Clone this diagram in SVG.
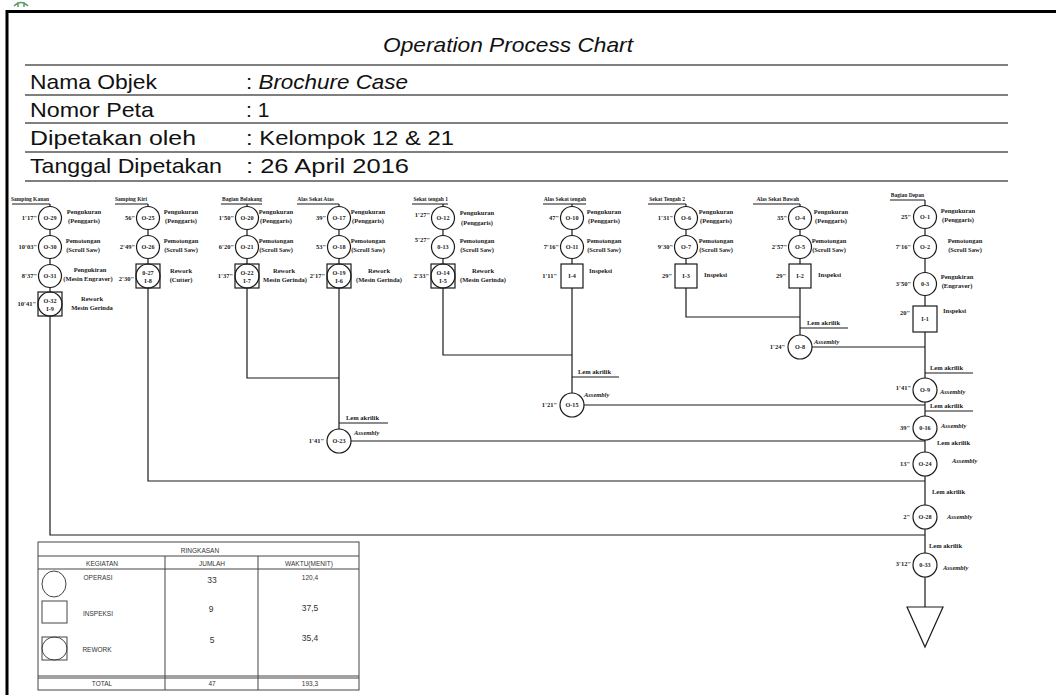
<svg xmlns="http://www.w3.org/2000/svg" width="1056" height="695" viewBox="0 0 1056 695">
<style>
.c{fill:#fff;stroke:#1a1a1a;stroke-width:1.2}
.cn{fill:none;stroke:#1a1a1a;stroke-width:1.2}
.ln{fill:none;stroke:#1a1a1a;stroke-width:1.2}
.hl{fill:none;stroke:#555;stroke-width:1.5}
.tl{fill:none;stroke:#444;stroke-width:1}
.t{font-family:"Liberation Serif",serif;font-weight:bold;fill:#1a1a1a}
.id{font-size:6.2px;text-anchor:middle}
.tm{font-size:6.5px;text-anchor:end}
.lb{font-size:6.5px;text-anchor:middle}
.ls{font-size:6.5px;text-anchor:start}
.hd{font-size:5.5px;text-anchor:end}
.as{font-size:6.5px;font-style:italic}
.lem{font-size:6.5px}
.h{font-family:"Liberation Sans",Arial,sans-serif;font-size:21px;fill:#111}
.tb{font-family:"Liberation Sans",Arial,sans-serif;font-size:6.5px;fill:#333;text-anchor:middle}
.tn{font-family:"Liberation Sans",Arial,sans-serif;font-size:8.5px;fill:#333;text-anchor:middle}
</style>
<rect width="1056" height="695" fill="#fff"/>
<path d="M14 6 q7 -7 14 0 M18 2 v5 M24 2 v5" stroke="#5a9e6a" stroke-width="1.5" fill="none"/>
<path d="M7 695 V11.5 H1056" fill="none" stroke="#000" stroke-width="3"/>
<g id="header">
<text class="h" x="383" y="52" font-style="italic" textLength="250" lengthAdjust="spacingAndGlyphs">Operation Process Chart</text>
<line class="hl" x1="25" y1="65" x2="1008" y2="65"/>
<text class="h" x="30" y="89" textLength="127" lengthAdjust="spacingAndGlyphs">Nama Objek</text><text class="h" x="246" y="89" textLength="162" lengthAdjust="spacingAndGlyphs">: <tspan font-style="italic">Brochure Case</tspan></text>
<line class="hl" x1="25" y1="95" x2="1008" y2="95"/>
<text class="h" x="30" y="117" textLength="124" lengthAdjust="spacingAndGlyphs">Nomor Peta</text><text class="h" x="246" y="117">: 1</text>
<line class="hl" x1="25" y1="123" x2="1008" y2="123"/>
<text class="h" x="30" y="145" textLength="166" lengthAdjust="spacingAndGlyphs">Dipetakan oleh</text><text class="h" x="246" y="145" textLength="208" lengthAdjust="spacingAndGlyphs">: Kelompok 12 &amp; 21</text>
<line class="hl" x1="25" y1="152" x2="1008" y2="152"/>
<text class="h" x="30" y="173" textLength="192" lengthAdjust="spacingAndGlyphs">Tanggal Dipetakan</text><text class="h" x="246" y="173" textLength="163" lengthAdjust="spacingAndGlyphs">: 26 April 2016</text>
<line class="hl" x1="25" y1="181" x2="1008" y2="181"/>
</g>
<g id="connectors">
<path class="ln" d="M50 204 V535 H925"/>
<path class="ln" d="M148 204 V481 H925"/>
<path class="ln" d="M247 204 V378 H339"/>
<path class="ln" d="M339 204 V441 H925"/>
<path class="ln" d="M443 204 V355 H572"/>
<path class="ln" d="M572 204 V405 H925"/>
<path class="ln" d="M686 204 V317 H800"/>
<path class="ln" d="M800 204 V347 H925"/>
<path class="ln" d="M925 200 V607"/>
<path class="ln" d="M800 328 H848 M572 377 H619 M339 423 H388 M925 373 H973 M925 411 H973"/>
</g>
<g id="inputs">
<text class="t lem" x="807" y="325">Lem akrilik</text>
<text class="t lem" x="578" y="374">Lem akrilik</text>
<text class="t lem" x="346" y="420">Lem akrilik</text>
<text class="t lem" x="930" y="370">Lem akrilik</text>
<text class="t lem" x="930" y="408">Lem akrilik</text>
<text class="t lem" x="937" y="445">Lem akrilik</text>
<text class="t lem" x="932" y="494">Lem akrilik</text>
<text class="t lem" x="929" y="548">Lem akrilik</text>
</g>
<g id="col-samping-kanan">
<text class="t hd" x="49" y="201">Samping Kanan</text><line class="ln" x1="12" y1="204" x2="50" y2="204"/>
</g>
<g id="col-samping-kiri">
<text class="t hd" x="147" y="201">Samping Kiri</text><line class="ln" x1="115" y1="204" x2="148" y2="204"/>
</g>
<g id="col-bagian-belakang">
<text class="t hd" x="262" y="201">Bagian Belakang</text><line class="ln" x1="221" y1="204" x2="262" y2="204"/>
</g>
<g id="col-alas-sekat-atas">
<text class="t hd" x="334" y="201">Alas Sekat Atas</text><line class="ln" x1="297" y1="204" x2="339" y2="204"/>
</g>
<g id="col-sekat-tengah-1">
<text class="t hd" x="448" y="201">Sekat tengah 1</text><line class="ln" x1="412" y1="204" x2="448" y2="204"/>
</g>
<g id="col-alas-sekat-tengah">
<text class="t hd" x="586" y="201">Alas Sekat tengah</text><line class="ln" x1="543" y1="204" x2="586" y2="204"/>
</g>
<g id="col-sekat-tengah-2">
<text class="t hd" x="685" y="201">Sekat Tengah 2</text><line class="ln" x1="648" y1="204" x2="686" y2="204"/>
</g>
<g id="col-alas-sekat-bawah">
<text class="t hd" x="799" y="201">Alas Sekat Bawah</text><line class="ln" x1="753" y1="204" x2="800" y2="204"/>
</g>
<g id="col-bagian-depan">
<text class="t hd" x="924" y="197">Bagian Depan</text><line class="ln" x1="890" y1="200" x2="925" y2="200"/>
</g>
<g id="O-29"><circle class="c" cx="50" cy="218" r="11.5"/><text class="t id" x="50" y="220">O-29</text><text class="t tm" x="37" y="220">1'17"</text><text class="t lb" x="84" y="213.5">Pengukuran</text><text class="t lb" x="84" y="223">(Penggaris)</text></g>
<g id="O-30"><circle class="c" cx="50" cy="247" r="11.5"/><text class="t id" x="50" y="249">O-30</text><text class="t tm" x="37" y="249">10'03"</text><text class="t lb" x="83" y="242.5">Pemotongan</text><text class="t lb" x="83" y="252">(Scroll Saw)</text></g>
<g id="O-31"><circle class="c" cx="50" cy="276" r="11.5"/><text class="t id" x="50" y="278">O-31</text><text class="t tm" x="37" y="278">8'37"</text><text class="t lb" x="90" y="271.5">Pengukiran</text><text class="t lb" x="88" y="281">(Mesin Engraver)</text></g>
<g id="O-32"><rect class="c" x="38" y="292" width="24" height="24"/><circle class="cn" cx="50" cy="304" r="12"/><text class="t id" x="50" y="303">O-32</text><text class="t id" x="50" y="311">I-9</text><text class="t tm" x="36" y="306">10'41"</text><text class="t lb" x="92" y="301">Rework</text><text class="t lb" x="92" y="310">Mesin Gerinda</text></g>
<g id="O-25"><circle class="c" cx="148" cy="218" r="11.5"/><text class="t id" x="148" y="220">O-25</text><text class="t tm" x="135" y="220">56"</text><text class="t lb" x="181" y="213.5">Pengukuran</text><text class="t lb" x="181" y="223">(Penggaris)</text></g>
<g id="O-26"><circle class="c" cx="148" cy="247" r="11.5"/><text class="t id" x="148" y="249">O-26</text><text class="t tm" x="135" y="249">2'49"</text><text class="t lb" x="181" y="242.5">Pemotongan</text><text class="t lb" x="181" y="252">(Scroll Saw)</text></g>
<g id="O-27"><rect class="c" x="136" y="264" width="24" height="24"/><circle class="cn" cx="148" cy="276" r="12"/><text class="t id" x="148" y="275">0-27</text><text class="t id" x="148" y="283">I-8</text><text class="t tm" x="134" y="281">2'30"</text><text class="t lb" x="181" y="273">Rework</text><text class="t lb" x="181" y="282">(Cutter)</text></g>
<g id="O-20"><circle class="c" cx="247" cy="218" r="11.5"/><text class="t id" x="247" y="220">O-20</text><text class="t tm" x="234" y="220">1'50"</text><text class="t lb" x="276" y="213.5">Pengukuran</text><text class="t lb" x="276" y="223">(Penggaris)</text></g>
<g id="O-21"><circle class="c" cx="247" cy="247" r="11.5"/><text class="t id" x="247" y="249">O-21</text><text class="t tm" x="234" y="249">6'20"</text><text class="t lb" x="276" y="242.5">Pemotongan</text><text class="t lb" x="276" y="252">(Scroll Saw)</text></g>
<g id="O-22"><rect class="c" x="235" y="264" width="24" height="24"/><circle class="cn" cx="247" cy="276" r="12"/><text class="t id" x="247" y="275">O-22</text><text class="t id" x="247" y="283">I-7</text><text class="t tm" x="233" y="278">1'37"</text><text class="t lb" x="284" y="273">Rework</text><text class="t lb" x="285" y="282">Mesin Gerinda)</text></g>
<g id="O-17"><circle class="c" cx="339" cy="218" r="11.5"/><text class="t id" x="339" y="220">O-17</text><text class="t tm" x="326" y="220">39"</text><text class="t lb" x="368" y="213.5">Pengukuran</text><text class="t lb" x="368" y="223">(Penggaris)</text></g>
<g id="O-18"><circle class="c" cx="339" cy="247" r="11.5"/><text class="t id" x="339" y="249">O-18</text><text class="t tm" x="326" y="249">53"</text><text class="t lb" x="368" y="242.5">Pemotongan</text><text class="t lb" x="368" y="252">(Scroll Saw)</text></g>
<g id="O-19"><rect class="c" x="327" y="264" width="24" height="24"/><circle class="cn" cx="339" cy="276" r="12"/><text class="t id" x="339" y="275">O-19</text><text class="t id" x="339" y="283">I-6</text><text class="t tm" x="325" y="278">2'17"</text><text class="t lb" x="379" y="273">Rework</text><text class="t lb" x="379" y="282">(Mesin Gerinda)</text></g>
<g id="O-12"><circle class="c" cx="443" cy="218" r="11.5"/><text class="t id" x="443" y="220">O-12</text><text class="t tm" x="430" y="217">1'27"</text><text class="t lb" x="477" y="215">Pengukuran</text><text class="t lb" x="477" y="225">(Penggaris)</text></g>
<g id="O-13"><circle class="c" cx="443" cy="247" r="11.5"/><text class="t id" x="443" y="249">0-13</text><text class="t tm" x="430" y="242">5'27"</text><text class="t lb" x="477" y="242.5">Pemotongan</text><text class="t lb" x="477" y="252">(Scroll Saw)</text></g>
<g id="O-14"><rect class="c" x="431" y="264" width="24" height="24"/><circle class="cn" cx="443" cy="276" r="12"/><text class="t id" x="443" y="275">O-14</text><text class="t id" x="443" y="283">I-5</text><text class="t tm" x="429" y="278">2'33"</text><text class="t lb" x="483" y="273">Rework</text><text class="t lb" x="483" y="282">(Mesin Gerinda)</text></g>
<g id="O-10"><circle class="c" cx="572" cy="218" r="11.5"/><text class="t id" x="572" y="220">O-10</text><text class="t tm" x="559" y="220">47"</text><text class="t lb" x="604" y="213.5">Pengukuran</text><text class="t lb" x="604" y="223">(Penggaris)</text></g>
<g id="O-11"><circle class="c" cx="572" cy="247" r="11.5"/><text class="t id" x="572" y="249">O-11</text><text class="t tm" x="559" y="249">7'16"</text><text class="t lb" x="604" y="242.5">Pemotongan</text><text class="t lb" x="604" y="252">(Scroll Saw)</text></g>
<g id="I-4"><rect class="c" x="561" y="264" width="22" height="24"/><text class="t id" x="572" y="278">I-4</text><text class="t tm" x="557" y="278">1'11"</text><text class="t ls" x="589" y="273">Inspeksi</text></g>
<g id="O-6"><circle class="c" cx="686" cy="218" r="11.5"/><text class="t id" x="686" y="220">O-6</text><text class="t tm" x="673" y="220">1'31"</text><text class="t lb" x="716" y="213.5">Pengukuran</text><text class="t lb" x="716" y="223">(Penggaris)</text></g>
<g id="O-7"><circle class="c" cx="686" cy="247" r="11.5"/><text class="t id" x="686" y="249">O-7</text><text class="t tm" x="673" y="249">9'30"</text><text class="t lb" x="716" y="242.5">Pemotongan</text><text class="t lb" x="716" y="252">(Scroll Saw)</text></g>
<g id="I-3"><rect class="c" x="675" y="264" width="22" height="24"/><text class="t id" x="686" y="278">I-3</text><text class="t tm" x="672" y="278">29"</text><text class="t ls" x="704" y="277">Inspeksi</text></g>
<g id="O-4"><circle class="c" cx="800" cy="218" r="11.5"/><text class="t id" x="800" y="220">O-4</text><text class="t tm" x="787" y="220">35"</text><text class="t lb" x="831" y="213.5">Pengukuran</text><text class="t lb" x="831" y="223">(Penggaris)</text></g>
<g id="O-5"><circle class="c" cx="800" cy="247" r="11.5"/><text class="t id" x="800" y="249">O-5</text><text class="t tm" x="787" y="249">2'57"</text><text class="t lb" x="829" y="242.5">Pemotongan</text><text class="t lb" x="829" y="252">(Scroll Saw)</text></g>
<g id="I-2"><rect class="c" x="789" y="264" width="22" height="24"/><text class="t id" x="800" y="278">I-2</text><text class="t tm" x="786" y="278">29"</text><text class="t ls" x="818" y="277">Inspeksi</text></g>
<g id="O-1"><circle class="c" cx="925" cy="217" r="11.5"/><text class="t id" x="925" y="219">O-1</text><text class="t tm" x="911" y="219">25"</text><text class="t lb" x="958" y="212.5">Pengukuran</text><text class="t lb" x="958" y="222">(Penggaris)</text></g>
<g id="O-2"><circle class="c" cx="925" cy="247" r="11.5"/><text class="t id" x="925" y="249">O-2</text><text class="t tm" x="911" y="249">7'16"</text><text class="t lb" x="965" y="242.5">Pemotongan</text><text class="t lb" x="965" y="252">(Scroll Saw)</text></g>
<g id="O-3"><circle class="c" cx="925" cy="284" r="11.5"/><text class="t id" x="925" y="286">0-3</text><text class="t tm" x="911" y="286">3'50"</text><text class="t lb" x="957" y="279">Pengukiran</text><text class="t lb" x="957" y="288">(Engraver)</text></g>
<g id="I-1"><rect class="c" x="913" y="306" width="24" height="26"/><text class="t id" x="925" y="321">I-1</text><text class="t tm" x="910" y="315">20"</text><text class="t ls" x="943" y="313">Inspeksi</text></g>
<g id="O-8"><circle class="c" cx="800" cy="347" r="12"/><text class="t id" x="800" y="349">O-8</text><text class="t tm" x="785" y="349">1'24"</text><text class="t as" x="814" y="344">Assembly</text></g>
<g id="O-15"><circle class="c" cx="572" cy="405" r="12"/><text class="t id" x="572" y="407">O-15</text><text class="t tm" x="557" y="407">1'21"</text><text class="t as" x="584" y="397">Assembly</text></g>
<g id="O-23"><circle class="c" cx="339" cy="441" r="12"/><text class="t id" x="339" y="443">O-23</text><text class="t tm" x="324" y="443">1'41"</text><text class="t as" x="354" y="435">Assembly</text></g>
<g id="O-9"><circle class="c" cx="925" cy="390" r="12"/><text class="t id" x="925" y="392">O-9</text><text class="t tm" x="911" y="390">1'41"</text><text class="t as" x="940" y="394">Assembly</text></g>
<g id="O-16"><circle class="c" cx="925" cy="428" r="12"/><text class="t id" x="925" y="430">0-16</text><text class="t tm" x="910" y="430">39"</text><text class="t as" x="941" y="428">Assembly</text></g>
<g id="O-24"><circle class="c" cx="925" cy="464" r="12"/><text class="t id" x="925" y="466">O-24</text><text class="t tm" x="910" y="466">13"</text><text class="t as" x="952" y="463">Assembly</text></g>
<g id="O-28"><circle class="c" cx="925" cy="517" r="12"/><text class="t id" x="925" y="519">O-28</text><text class="t tm" x="910" y="519">2"</text><text class="t as" x="947" y="519">Assembly</text></g>
<g id="O-33"><circle class="c" cx="925" cy="565" r="12"/><text class="t id" x="925" y="567">0-33</text><text class="t tm" x="911" y="566">3'12"</text><text class="t as" x="943" y="570">Assembly</text></g>
<g id="storage"><polygon class="c" points="907,607 943,607 925,647"/></g>
<g id="summary">
<rect class="tl" x="38" y="542" width="321" height="148"/>
<line class="tl" x1="38" y1="556" x2="359" y2="556"/>
<line class="tl" x1="38" y1="569" x2="359" y2="569"/>
<line class="tl" x1="165" y1="556" x2="165" y2="690"/>
<line class="tl" x1="258" y1="556" x2="258" y2="690"/>
<line class="tl" x1="38" y1="676" x2="359" y2="676"/>
<line class="tl" x1="38" y1="678" x2="359" y2="678"/>
<text class="tb" x="200" y="553">RINGKASAN</text>
<text class="tb" x="102" y="566">KEGIATAN</text>
<text class="tb" x="212" y="566">JUMLAH</text>
<text class="tb" x="309" y="566">WAKTU(MENIT)</text>
<ellipse class="tl" cx="54" cy="584" rx="12" ry="13"/>
<text class="tb" x="98" y="580">OPERASI</text>
<text class="tn" x="212" y="583">33</text>
<text class="tb" x="310" y="580">120,4</text>
<rect class="tl" x="42" y="601" width="25" height="22"/>
<text class="tb" x="98" y="616">INSPEKSI</text>
<text class="tn" x="211" y="612">9</text>
<text class="tn" x="310" y="611">37,5</text>
<rect class="tl" x="42" y="637" width="25" height="23"/>
<ellipse class="tl" cx="54.5" cy="648.5" rx="12.5" ry="11.5"/>
<text class="tb" x="97" y="652">REWORK</text>
<text class="tn" x="212" y="643">5</text>
<text class="tn" x="310" y="641">35,4</text>
<text class="tb" x="102" y="686">TOTAL</text>
<text class="tb" x="212" y="686">47</text>
<text class="tb" x="310" y="686">193,3</text>
</g>
</svg>
